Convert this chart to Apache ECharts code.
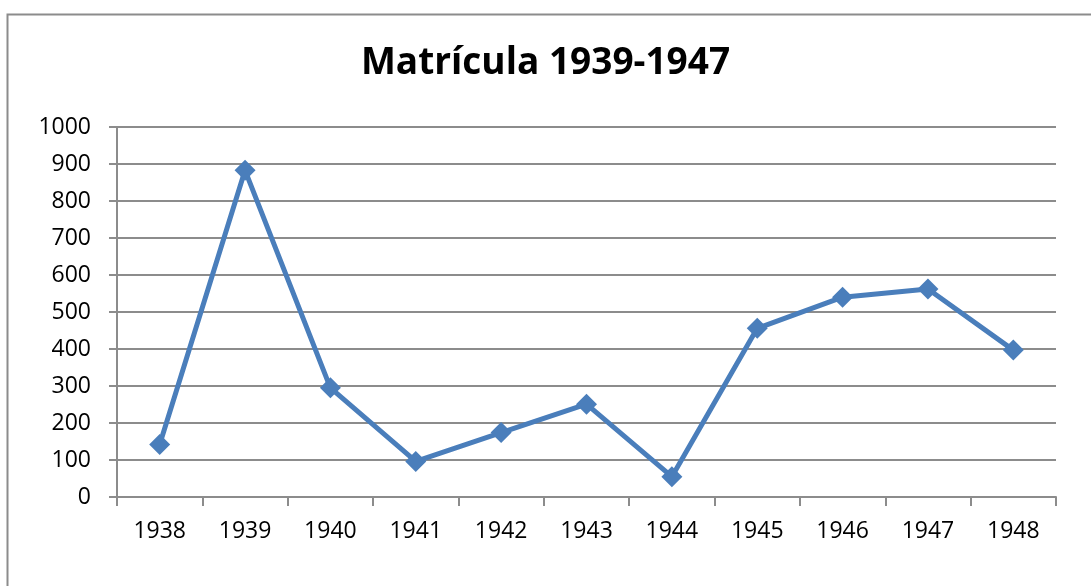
<!DOCTYPE html>
<html>
<head>
<meta charset="utf-8">
<script src="https://cdn.jsdelivr.net/npm/echarts@6/dist/echarts.min.js"></script>
<style>
  html, body { margin: 0; padding: 0; background: #fff; }
  #chart { width: 1091px; height: 586px; }
</style>
</head>
<body>
<div id="chart"></div>
<script>
// datos
var years = ['1938', '1939', '1940', '1941', '1942', '1943', '1944', '1945', '1946', '1947', '1948'];
var matricula = [142, 883, 295, 96, 174, 251, 55, 456, 540, 562, 397];

var myChart = echarts.init(document.getElementById('chart'));
var font = 'Open Sans';

var option = {
    animation: false,
    backgroundColor: '#fff',
    title: {
        text: 'Matrícula 1939-1947',
        left: 'center',
        top: 40,
        textStyle: {
            fontFamily: font,
            fontWeight: 'bold',
            fontSize: 37,
            color: '#000'
        }
    },
    graphic: [{
        type: 'rect',
        shape: { x: 7.5, y: 14.5, width: 1100, height: 600 },
        style: { fill: 'none', stroke: '#8c8c8c', lineWidth: 2 },
        silent: true
    }],
    grid: {
        left: 117,
        right: 35,
        top: 127,
        bottom: 89
    },
    xAxis: {
        type: 'category',
        data: years,
        boundaryGap: true,
        axisLine: { lineStyle: { color: '#8c8c8c', width: 2 } },
        axisTick: { show: true, length: 9, lineStyle: { color: '#8c8c8c', width: 2 } },
        axisLabel: { color: '#000', fontFamily: font, fontSize: 23, margin: 23 },
        splitLine: { show: false }
    },
    yAxis: {
        type: 'value',
        min: 0,
        max: 1000,
        interval: 100,
        axisLine: { show: true, lineStyle: { color: '#8c8c8c', width: 2 } },
        axisTick: { show: true, length: 8, lineStyle: { color: '#8c8c8c', width: 2 } },
        axisLabel: {
            color: '#000', fontFamily: font, fontSize: 23, margin: 26,
            formatter: function (v) { return String(v); }
        },
        splitLine: { lineStyle: { color: '#8c8c8c', width: 2 } }
    },
    series: [{
        name: 'Matrícula',
        type: 'line',
        data: matricula,
        symbol: 'diamond',
        symbolSize: 21,
        lineStyle: { color: '#4a7ebb', width: 5 },
        itemStyle: { color: '#4a7ebb' }
    }]
};

myChart.setOption(option);
</script>
</body>
</html>
